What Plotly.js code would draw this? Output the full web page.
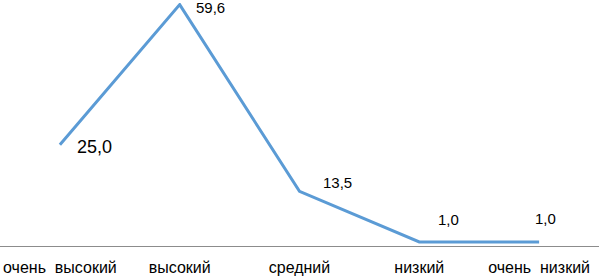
<!DOCTYPE html>
<html>
<head>
<meta charset="utf-8">
<script src="https://cdn.plot.ly/plotly-3.0.1.min.js"></script>
<style>html,body{margin:0;padding:0;background:#fff;}#chart{width:599px;height:276px;}</style>
</head>
<body>
<div id="chart"></div>
<script>
const categories = ["очень\u00a0 высокий", "высокий", "средний", "низкий", "очень\u00a0 низкий"];
const values = [25.0, 59.6, 13.5, 1.0, 1.0];
const labelSizes = [18, 15, 15, 15, 15];
const labelXShift = [35, 31, 38, 29, 6];
const labelYShift = [-2, -3, 9, 22, 23];

const fmt = v => v.toFixed(1).replace('.', ',');

const trace = {
  x: categories,
  y: values,
  type: 'scatter',
  mode: 'lines',
  line: {color: '#5b9bd5', width: 3},
  hoverinfo: 'skip'
};

const annotations = values.map((v, i) => ({
  x: categories[i], y: v, xref: 'x', yref: 'y',
  text: fmt(v), showarrow: false,
  xanchor: 'center', yanchor: 'middle',
  xshift: labelXShift[i], yshift: labelYShift[i],
  font: {family: 'Liberation Sans, Arial, sans-serif', size: labelSizes[i], color: '#000'}
}));

const layout = {
  width: 599, height: 276,
  margin: {l: 0, r: 0, t: 3, b: 30},
  paper_bgcolor: '#fff', plot_bgcolor: '#fff',
  showlegend: false,
  xaxis: {
    type: 'category', range: [-0.5, 4.5],
    showline: true, linecolor: '#8c8c8c', linewidth: 1,
    showgrid: false, zeroline: false, ticks: '',
    ticklabelstandoff: 7,
    tickfont: {family: 'Liberation Sans, Arial, sans-serif', size: 16, color: '#000'},
    fixedrange: true
  },
  yaxis: {
    range: [0, 60], visible: false, showgrid: false, zeroline: false, fixedrange: true
  },
  annotations: annotations
};

Plotly.newPlot('chart', [trace], layout, {displayModeBar: false, staticPlot: true});
</script>
</body>
</html>
